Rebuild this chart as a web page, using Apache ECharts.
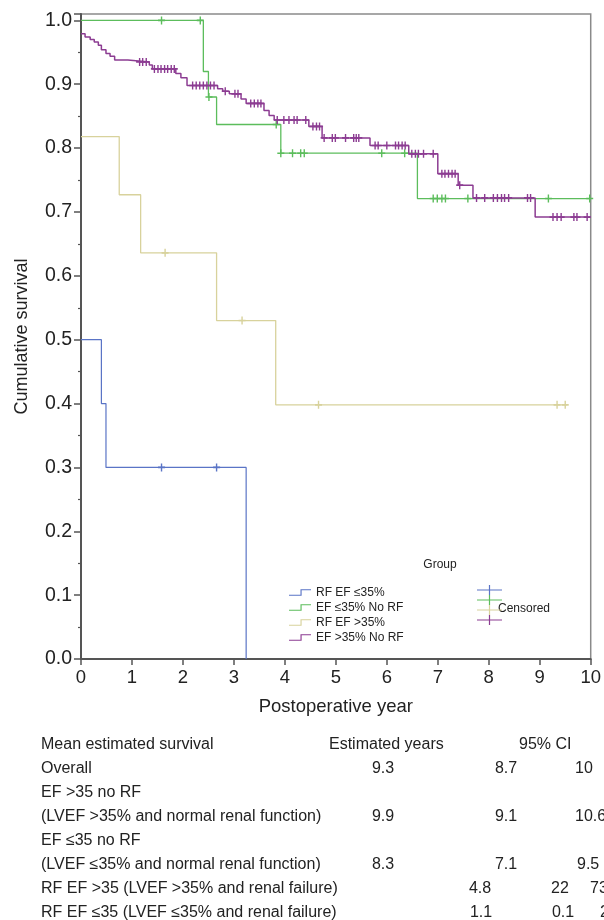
<!DOCTYPE html>
<html>
<head>
<meta charset="utf-8">
<script src="https://cdn.jsdelivr.net/npm/echarts@6.0.0/dist/echarts.min.js"></script>
<style>
  html, body { margin: 0; padding: 0; background: #fff; }
  #main { width: 604px; height: 920px; }
</style>
</head>
<body>
<div id="main"></div>
<script>
// groups (legend order)
const groupNames = ['RF EF ≤35%', 'EF ≤35% No RF', 'RF EF >35%', 'EF >35% No RF'];

// RF EF <=35%
const rfLowTime = [0, 0.40, 0.49, 3.24];
const rfLowSurv = [0.5, 0.4, 0.3, 0];
const rfLowCensor = [1.58, 2.66];

// EF <=35% No RF
const noRfLowTime = [0, 2.40, 2.50, 2.66, 3.92, 6.60, 10];
const noRfLowSurv = [1.0, 0.92, 0.88, 0.837, 0.792, 0.721, 0.721];
const noRfLowCensor = [1.58, 2.34, 2.51, 3.83, 3.92, 4.15, 4.31, 4.38, 5.90, 6.35,
  6.91, 6.99, 7.08, 7.15, 7.59, 9.17, 9.98];

// RF EF >35%
const rfHighTime = [0, 0.75, 1.17, 2.66, 3.82, 9.53];
const rfHighSurv = [0.818, 0.727, 0.636, 0.530, 0.398, 0.398];
const rfHighCensor = [1.65, 3.16, 4.66, 9.34, 9.50];

// EF >35% No RF
const noRfHighTime = [0, 0.08, 0.18, 0.26, 0.34, 0.40, 0.49, 0.57, 0.66, 0.92, 1.34, 1.40,
  1.86, 1.96, 2.08, 2.68, 2.78, 2.91, 3.14, 3.24, 3.59, 3.69, 3.79, 4.47, 4.73, 5.67,
  6.43, 7.00, 7.40, 7.69, 8.91, 10];
const noRfHighSurv = [0.979, 0.974, 0.970, 0.966, 0.961, 0.954, 0.948, 0.944, 0.938, 0.935, 0.930, 0.924,
  0.917, 0.910, 0.898, 0.893, 0.889, 0.885, 0.877, 0.870, 0.859, 0.851, 0.844, 0.834, 0.816, 0.804,
  0.791, 0.760, 0.742, 0.722, 0.692, 0.692];
const noRfHighCensor = [1.15, 1.21, 1.28, 1.44, 1.51, 1.57, 1.64, 1.70, 1.77, 1.83,
  2.19, 2.26, 2.33, 2.40, 2.47, 2.54, 2.61, 2.83, 3.02, 3.08, 3.33, 3.40, 3.47, 3.53,
  3.85, 3.98, 4.08, 4.18, 4.24, 4.41, 4.55, 4.62, 4.68, 4.77, 4.93, 4.99, 5.19, 5.35, 5.40, 5.45,
  5.77, 5.83, 6.00, 6.17, 6.23, 6.30, 6.36, 6.49, 6.56, 6.62, 6.72, 6.91,
  7.08, 7.14, 7.21, 7.28, 7.34, 7.43, 7.76, 7.92, 8.09, 8.17, 8.25, 8.31, 8.39, 8.76, 8.82,
  9.26, 9.34, 9.42, 9.67, 9.73, 9.93];

const xTicks = [0, 10, 1];
const yTicks = [0, 1.0, 0.1];

// table below the chart
const tableHeader = ['Mean estimated survival', 'Estimated years', '95% CI'];
const tableLabels = ['Overall', 'EF >35 no RF', '(LVEF >35% and normal renal function)',
  'EF ≤35 no RF', '(LVEF ≤35% and normal renal function)',
  'RF EF >35 (LVEF >35% and renal failure)', 'RF EF ≤35 (LVEF ≤35% and renal failure)'];
const tableEstimate = ['9.3', '', '9.9', '', '8.3', '4.8', '1.1'];
const tableCiLow = ['8.7', '', '9.1', '', '7.1', '22', '0.1'];
const tableCiHigh = ['10', '', '10.6', '', '9.5', '73', '2'];

// ---- styling / layout ----
const colors = ['#5a74c6', '#5cbd5c', '#d8d29c', '#8c3c92'];
const lineWidths = [1.2, 1.3, 1.3, 1.5];
const FONT = '"Liberation Sans", Arial, sans-serif';
const plusPath = 'path://M4,0H6V4H10V6H6V10H4V6H0V4H4Z';
const stepIcon = 'path://M0,5.8H12V0H23V1.2H13.2V7H0Z';
const legendPlus = 'path://M0,4.4H11.9V0H13.1V4.4H25V5.6H13.1V10H11.9V5.6H0Z';

const curves = [
  [rfLowTime, rfLowSurv, rfLowCensor],
  [noRfLowTime, noRfLowSurv, noRfLowCensor],
  [rfHighTime, rfHighSurv, rfHighCensor],
  [noRfHighTime, noRfHighSurv, noRfHighCensor]
];

function survAt(times, surv, t) {
  let s = surv[0];
  for (let i = 0; i < times.length; i++) {
    if (times[i] <= t + 1e-9) s = surv[i];
  }
  return s;
}

const censorNames = groupNames.map(n => n + ' censored');
const series = [];
curves.forEach((c, i) => {
  series.push({
    name: groupNames[i],
    type: 'line',
    step: 'end',
    showSymbol: false,
    color: colors[i],
    itemStyle: { color: colors[i] },
    lineStyle: { color: colors[i], width: lineWidths[i] },
    data: c[0].map((t, k) => [t, c[1][k]]),
    z: 2
  });
});
curves.forEach((c, i) => {
  series.push({
    name: censorNames[i],
    type: 'scatter',
    symbol: plusPath,
    symbolSize: [7, 8],
    color: colors[i],
    itemStyle: { color: colors[i], opacity: 1 },
    data: c[2].map(t => [t, survAt(c[0], c[1], t)]),
    z: 3
  });
});

const rowY = [769, 793, 817, 841, 865, 889, 913];
const estX = [383, 0, 383, 0, 383, 480, 481];
const ciLowX = [506, 0, 506, 0, 506, 560, 563];
const ciHighX = [575, 0, 575, 0, 577, 590, 600];

function txt(s, x, y, align, size) {
  return {
    type: 'text', x: x, y: y, silent: true,
    style: {
      text: s, fill: '#222', font: (size || 16) + 'px ' + FONT,
      align: align, textAlign: align, verticalAlign: 'middle', textVerticalAlign: 'middle'
    }
  };
}

const graphics = [
  txt('Group', 440, 565, 'center', 12),
  txt('Censored', 498, 609, 'left', 12),
  txt(tableHeader[0], 41, 745, 'left'),
  txt(tableHeader[1], 329, 745, 'left'),
  txt(tableHeader[2], 519, 745, 'left')
];
tableLabels.forEach((lab, i) => {
  graphics.push(txt(lab, 41, rowY[i], 'left'));
  if (tableEstimate[i]) graphics.push(txt(tableEstimate[i], estX[i], rowY[i], 'center'));
  if (tableCiLow[i]) graphics.push(txt(tableCiLow[i], ciLowX[i], rowY[i], 'center'));
  if (tableCiHigh[i]) graphics.push(txt(tableCiHigh[i], ciHighX[i], rowY[i], 'left'));
});

const chart = echarts.init(document.getElementById('main'), null, { renderer: 'canvas' });
chart.setOption({
  animation: false,
  backgroundColor: '#fff',
  textStyle: { fontFamily: FONT },
  grid: {
    left: 81, right: 11, top: 14, bottom: 261,
    show: true, borderColor: '#8a8a8a', borderWidth: 1.5
  },
  xAxis: {
    type: 'value',
    min: xTicks[0], max: xTicks[1], interval: xTicks[2],
    name: 'Postoperative year',
    nameLocation: 'middle',
    nameGap: 38,
    nameTextStyle: { fontSize: 18.5, color: '#222', fontFamily: FONT },
    axisLine: { show: true, lineStyle: { color: '#555', width: 2 } },
    axisTick: { show: true, length: 6, lineStyle: { color: '#555', width: 1.5 } },
    axisLabel: { fontSize: 18.5, color: '#222', margin: 9, fontFamily: FONT },
    splitLine: { show: false }
  },
  yAxis: {
    type: 'value',
    min: yTicks[0], max: 1.01, interval: yTicks[2],
    name: 'Cumulative survival',
    nameLocation: 'middle',
    nameGap: 50,
    nameTextStyle: { fontSize: 18, color: '#222', fontFamily: FONT },
    axisLine: { show: true, lineStyle: { color: '#555', width: 2 } },
    axisTick: { show: true, length: 7, lineStyle: { color: '#555', width: 1.5 } },
    minorTick: { show: true, splitNumber: 2, length: 3, lineStyle: { color: '#555', width: 1.2 } },
    axisLabel: {
      fontSize: 19.5, color: '#222', margin: 9, fontFamily: FONT, showMaxLabel: false,
      formatter: v => (v > yTicks[1] + 1e-6 ? '' : v.toFixed(1))
    },
    splitLine: { show: false }
  },
  legend: [
    {
      data: groupNames,
      orient: 'vertical',
      left: 284, top: 580,
      icon: stepIcon,
      itemWidth: 22, itemHeight: 7,
      itemGap: 0,
      itemStyle: { borderWidth: 0 },
      selectedMode: false,
      textStyle: { fontSize: 12, color: '#222', lineHeight: 15, fontFamily: FONT }
    },
    {
      data: censorNames,
      orient: 'vertical',
      left: 472, top: 580,
      icon: legendPlus,
      itemWidth: 25, itemHeight: 10,
      itemGap: 0,
      itemStyle: { borderWidth: 0 },
      selectedMode: false,
      formatter: () => '',
      textStyle: { fontSize: 12, lineHeight: 15 }
    }
  ],
  graphic: graphics,
  series: series
});
</script>
</body>
</html>
